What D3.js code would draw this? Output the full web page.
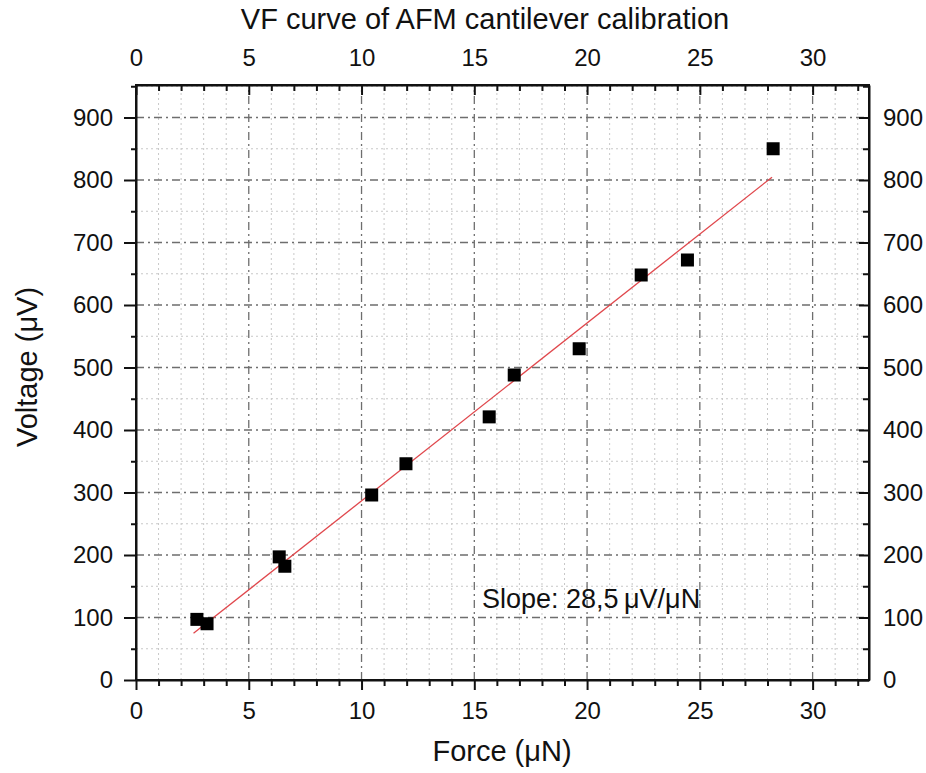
<!DOCTYPE html>
<html>
<head>
<meta charset="utf-8">
<script src="https://cdn.jsdelivr.net/npm/d3@7"></script>
<style>
  body { margin: 0; background: #fff; }
  svg text { font-family: 'Liberation Sans', Arial, sans-serif; fill: #111; }
</style>
</head>
<body>
<div id="chart"></div>
<script>
// measured points (force in uN, voltage in uV)
const force = [2.7, 3.15, 6.35, 6.6, 10.45, 11.97, 15.66, 16.77, 19.65, 22.4, 24.45, 28.25]
const voltage = [97, 90, 197, 182, 296, 346, 421, 488, 530, 648, 672, 850]
const fitRange = [2.55, 28.2]
const xTicks = [0, 5, 10, 15, 20, 25, 30]
const yTicks = [0, 100, 200, 300, 400, 500, 600, 700, 800, 900]
const title = 'VF curve of AFM cantilever calibration'
const xAxisLabel = 'Force (μN)'
const yAxisLabel = 'Voltage (μV)'
const note = 'Slope: 28,5\u2009μV/μN'

const width = 926
const height = 773
const margin = { top: 85, right: 57, bottom: 93, left: 136 }

const x = d3.scaleLinear()
  .domain([0, 32.5])
  .range([margin.left, width - margin.right])

const y = d3.scaleLinear()
  .domain([0, 952])
  .range([height - margin.bottom, margin.top])

const svg = d3.select('#chart').append('svg')
  .attr('width', width)
  .attr('height', height)

const x0 = margin.left
const x1 = width - margin.right
const y0 = height - margin.bottom
const y1 = margin.top

// minor grid
const xMinor = d3.range(1, 33).filter(d => d % 5 !== 0)
const yMinor = d3.range(50, 951, 100)

const grid = (vals, vertical, color, dash, w) => svg.append('g')
  .selectAll('line')
  .data(vals).enter()
  .append('line')
  .attr('x1', d => vertical ? x(d) : x0)
  .attr('x2', d => vertical ? x(d) : x1)
  .attr('y1', d => vertical ? y0 : y(d))
  .attr('y2', d => vertical ? y1 : y(d))
  .attr('stroke', color)
  .attr('stroke-width', w)
  .attr('stroke-dasharray', dash)

grid(xMinor, true, '#c8c8c8', '2,3', 1)
grid(yMinor, false, '#c8c8c8', '2,3', 1)
// major grid, dash-dot
grid(xTicks.filter(d => d > 0), true, '#6e6e6e', '8,4,2,4', 1.3)
grid(yTicks.filter(d => d > 0), false, '#6e6e6e', '8,4,2,4', 1.3)

// axes
const styleAxis = g => {
  g.selectAll('.domain').attr('stroke', '#111').attr('stroke-width', 2)
  g.selectAll('.tick line').attr('stroke', '#111').attr('stroke-width', 2)
  g.selectAll('.tick text').style('font-size', '24px').attr('fill', '#111')
}
const minorTicks = (g, axis, vals, size) => {
  g.append('g').call(axis.tickValues(vals).tickFormat('').tickSize(size).tickSizeOuter(0))
    .call(h => h.select('.domain').remove())
    .selectAll('.tick line').attr('stroke', '#111').attr('stroke-width', 2)
}

svg.append('g')
  .attr('transform', `translate(0,${y0})`)
  .call(d3.axisBottom(x).tickValues(xTicks).tickSize(10).tickSizeOuter(0).tickPadding(12))
  .call(styleAxis)
  .call(g => minorTicks(g, d3.axisBottom(x), xMinor, 6))

svg.append('g')
  .attr('transform', `translate(0,${y1})`)
  .call(d3.axisTop(x).tickValues(xTicks).tickSize(-10).tickSizeOuter(0).tickPadding(19))
  .call(styleAxis)
  .call(g => minorTicks(g, d3.axisTop(x), xMinor, -6))

svg.append('g')
  .attr('transform', `translate(${x0},0)`)
  .call(d3.axisLeft(y).tickValues(yTicks).tickSize(12).tickSizeOuter(0).tickPadding(11))
  .call(styleAxis)
  .call(g => minorTicks(g, d3.axisLeft(y), yMinor, 5))

svg.append('g')
  .attr('transform', `translate(${x1},0)`)
  .call(d3.axisRight(y).tickValues(yTicks).tickSize(-10).tickSizeOuter(0).tickPadding(14))
  .call(styleAxis)
  .call(g => minorTicks(g, d3.axisRight(y), yMinor, -6))

// frame
svg.append('rect')
  .attr('x', x0).attr('y', y1)
  .attr('width', x1 - x0).attr('height', y0 - y1)
  .attr('fill', 'none')
  .attr('stroke', '#111')
  .attr('stroke-width', 2)

// linear fit (least squares)
const mx = d3.mean(force)
const my = d3.mean(voltage)
let sxy = 0
let sxx = 0
force.forEach((f, i) => {
  sxy += (f - mx) * (voltage[i] - my)
  sxx += (f - mx) * (f - mx)
})
const m = sxy / sxx
const b = my - m * mx

svg.append('line')
  .attr('x1', x(fitRange[0])).attr('y1', y(b + m * fitRange[0]))
  .attr('x2', x(fitRange[1])).attr('y2', y(b + m * fitRange[1]))
  .attr('stroke', '#e0474c')
  .attr('stroke-width', 1.3)

// points
const s = 13
svg.append('g')
  .selectAll('rect')
  .data(force.map((f, i) => ({ f, v: voltage[i] }))).enter()
  .append('rect')
  .attr('x', d => x(d.f) - s / 2)
  .attr('y', d => y(d.v) - s / 2)
  .attr('width', s)
  .attr('height', s)
  .attr('fill', '#000')

// labels
svg.append('text')
  .attr('x', 485).attr('y', 29)
  .attr('text-anchor', 'middle')
  .style('font-size', '29px')
  .text(title)

svg.append('text')
  .attr('x', 502).attr('y', 761)
  .attr('text-anchor', 'middle')
  .style('font-size', '29px')
  .text(xAxisLabel)

svg.append('text')
  .attr('transform', 'translate(37,367) rotate(-90)')
  .attr('text-anchor', 'middle')
  .style('font-size', '29px')
  .text(yAxisLabel)

svg.append('text')
  .attr('x', 482).attr('y', 608)
  .style('font-size', '27px')
  .text(note)
</script>
</body>
</html>
